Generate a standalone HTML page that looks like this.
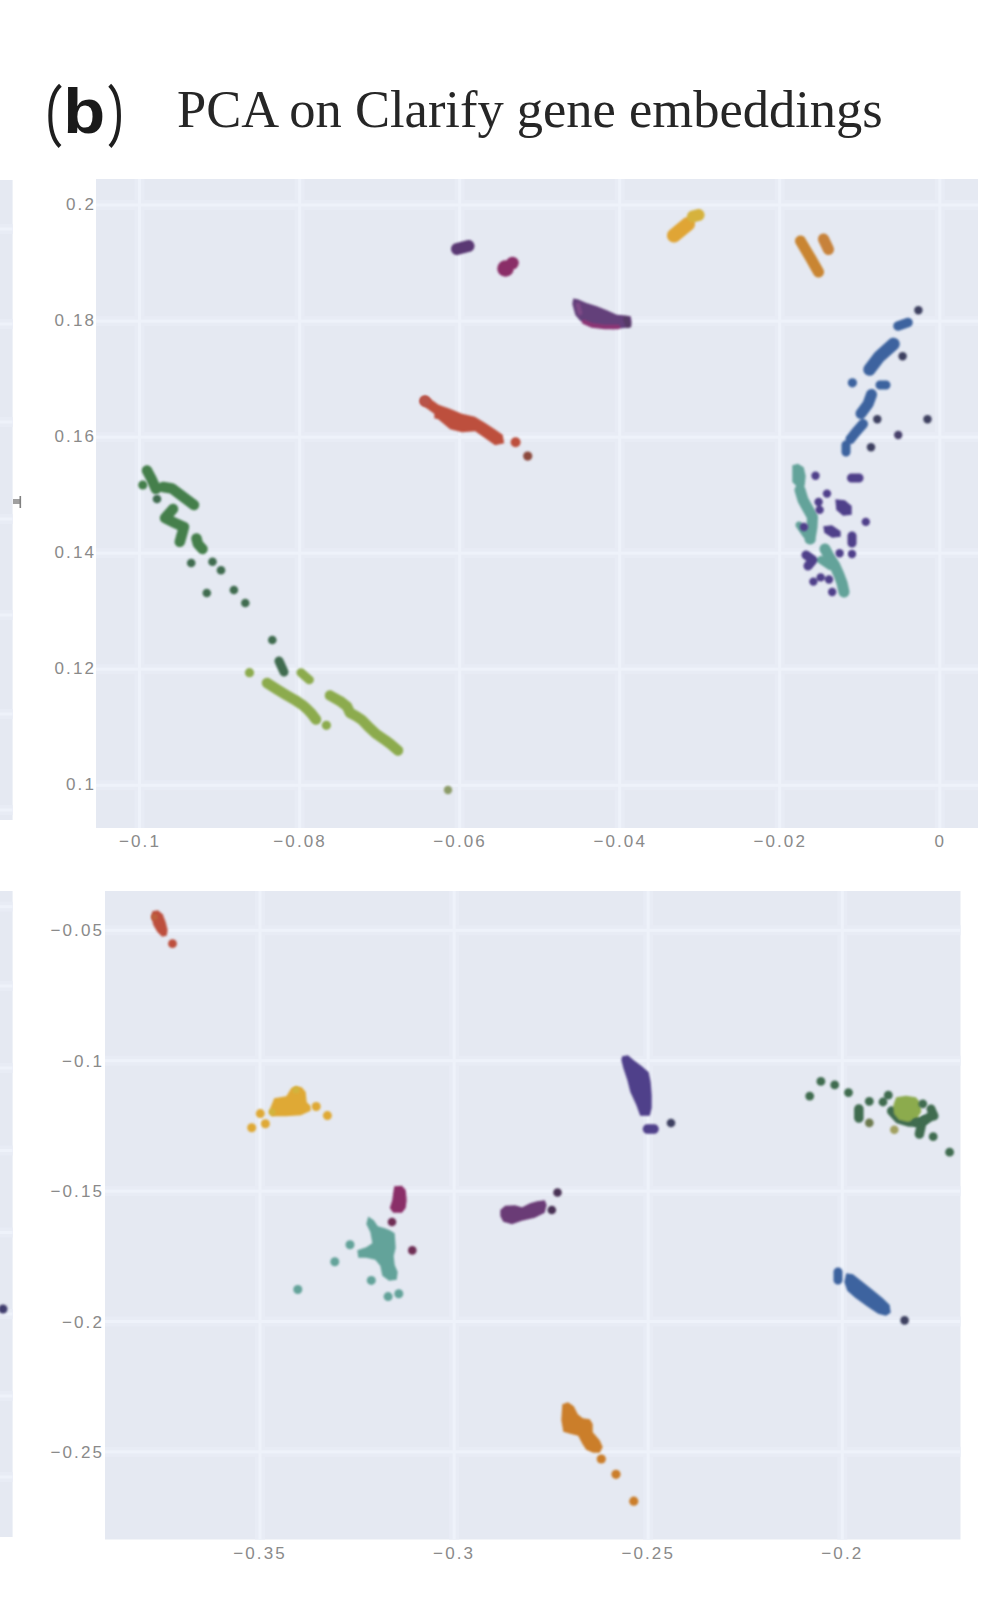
<!DOCTYPE html>
<html><head><meta charset="utf-8"><title>PCA on Clarify gene embeddings</title>
<style>
html,body{margin:0;padding:0;background:#fff;}
body{width:984px;height:1624px;overflow:hidden;}
svg{display:block;}
.t{font-family:"Liberation Sans",sans-serif;font-size:17px;letter-spacing:2.1px;fill:#8a8a8a;}
.pb{font-family:"Liberation Sans",sans-serif;font-size:63px;font-weight:bold;fill:#1a1a1a;}
.ti{font-family:"Liberation Serif",serif;font-size:52.5px;fill:#262626;}
</style></head>
<body>
<svg width="984" height="1624" viewBox="0 0 984 1624">
<defs><filter id="bl" x="-5%" y="-5%" width="110%" height="110%"><feGaussianBlur stdDeviation="0.8"/></filter><filter id="tb" x="-2%" y="-20%" width="104%" height="140%"><feGaussianBlur stdDeviation="0.45"/></filter><filter id="bl2" x="-5%" y="-5%" width="110%" height="110%"><feGaussianBlur stdDeviation="1.3"/></filter></defs>
<rect x="96" y="179" width="882" height="649" fill="#E5E9F2"/>
<g fill="#E8ECF5"><rect x="134.5" y="179" width="10" height="649"/><rect x="294.6" y="179" width="10" height="649"/><rect x="454.6" y="179" width="10" height="649"/><rect x="614.7" y="179" width="10" height="649"/><rect x="774.7" y="179" width="10" height="649"/><rect x="934.8" y="179" width="10" height="649"/><rect x="96" y="200.0" width="882" height="10"/><rect x="96" y="316.1" width="882" height="10"/><rect x="96" y="432.1" width="882" height="10"/><rect x="96" y="548.1" width="882" height="10"/><rect x="96" y="664.2" width="882" height="10"/><rect x="96" y="780.2" width="882" height="10"/></g>
<g fill="#EEF2FA"><rect x="138.0" y="179" width="3" height="649"/><rect x="298.1" y="179" width="3" height="649"/><rect x="458.1" y="179" width="3" height="649"/><rect x="618.2" y="179" width="3" height="649"/><rect x="778.2" y="179" width="3" height="649"/><rect x="938.3" y="179" width="3" height="649"/><rect x="96" y="203.5" width="882" height="3"/><rect x="96" y="319.6" width="882" height="3"/><rect x="96" y="435.6" width="882" height="3"/><rect x="96" y="551.6" width="882" height="3"/><rect x="96" y="667.7" width="882" height="3"/><rect x="96" y="783.8" width="882" height="3"/></g>
<rect x="105" y="891" width="855.5" height="648.5" fill="#E5E9F2"/>
<g fill="#E8ECF5"><rect x="255.0" y="891" width="10" height="648.5"/><rect x="449.1" y="891" width="10" height="648.5"/><rect x="643.2" y="891" width="10" height="648.5"/><rect x="837.3" y="891" width="10" height="648.5"/><rect x="105" y="925.3" width="855.5" height="10"/><rect x="105" y="1055.7" width="855.5" height="10"/><rect x="105" y="1186.1" width="855.5" height="10"/><rect x="105" y="1316.5" width="855.5" height="10"/><rect x="105" y="1446.9" width="855.5" height="10"/></g>
<g fill="#EEF2FA"><rect x="258.5" y="891" width="3" height="648.5"/><rect x="452.6" y="891" width="3" height="648.5"/><rect x="646.7" y="891" width="3" height="648.5"/><rect x="840.8" y="891" width="3" height="648.5"/><rect x="105" y="928.8" width="855.5" height="3"/><rect x="105" y="1059.2" width="855.5" height="3"/><rect x="105" y="1189.6" width="855.5" height="3"/><rect x="105" y="1320.0" width="855.5" height="3"/><rect x="105" y="1450.4" width="855.5" height="3"/></g>
<rect x="0" y="180" width="12.6" height="640" fill="#E5E9F2"/>
<g fill="#E8ECF5"><rect x="0" y="224.0" width="12.6" height="10"/><rect x="0" y="319.0" width="12.6" height="10"/><rect x="0" y="417.0" width="12.6" height="10"/><rect x="0" y="514.0" width="12.6" height="10"/><rect x="0" y="610.0" width="12.6" height="10"/><rect x="0" y="709.0" width="12.6" height="10"/><rect x="0" y="805.0" width="12.6" height="10"/></g>
<g fill="#EEF2FA"><rect x="0" y="227.5" width="12.6" height="3"/><rect x="0" y="322.5" width="12.6" height="3"/><rect x="0" y="420.5" width="12.6" height="3"/><rect x="0" y="517.5" width="12.6" height="3"/><rect x="0" y="613.5" width="12.6" height="3"/><rect x="0" y="712.5" width="12.6" height="3"/><rect x="0" y="808.5" width="12.6" height="3"/></g>
<rect x="0" y="891" width="12.6" height="646" fill="#E5E9F2"/>
<g fill="#E8ECF5"><rect x="0" y="901.6" width="12.6" height="10"/><rect x="0" y="981.0" width="12.6" height="10"/><rect x="0" y="1063.0" width="12.6" height="10"/><rect x="0" y="1145.5" width="12.6" height="10"/><rect x="0" y="1227.5" width="12.6" height="10"/><rect x="0" y="1309.0" width="12.6" height="10"/><rect x="0" y="1391.0" width="12.6" height="10"/><rect x="0" y="1472.0" width="12.6" height="10"/></g>
<g fill="#EEF2FA"><rect x="0" y="905.1" width="12.6" height="3"/><rect x="0" y="984.5" width="12.6" height="3"/><rect x="0" y="1066.5" width="12.6" height="3"/><rect x="0" y="1149.0" width="12.6" height="3"/><rect x="0" y="1231.0" width="12.6" height="3"/><rect x="0" y="1312.5" width="12.6" height="3"/><rect x="0" y="1394.5" width="12.6" height="3"/><rect x="0" y="1475.5" width="12.6" height="3"/></g>
<text x="96" y="210.0" text-anchor="end" class="t">0.2</text>
<text x="96" y="326.1" text-anchor="end" class="t">0.18</text>
<text x="96" y="442.1" text-anchor="end" class="t">0.16</text>
<text x="96" y="558.1" text-anchor="end" class="t">0.14</text>
<text x="96" y="674.2" text-anchor="end" class="t">0.12</text>
<text x="96" y="790.2" text-anchor="end" class="t">0.1</text>
<text x="140.0" y="847.0" text-anchor="middle" class="t">−0.1</text>
<text x="300.1" y="847.0" text-anchor="middle" class="t">−0.08</text>
<text x="460.1" y="847.0" text-anchor="middle" class="t">−0.06</text>
<text x="620.2" y="847.0" text-anchor="middle" class="t">−0.04</text>
<text x="780.2" y="847.0" text-anchor="middle" class="t">−0.02</text>
<text x="940.3" y="847.0" text-anchor="middle" class="t">0</text>
<text x="104" y="936.3" text-anchor="end" class="t">−0.05</text>
<text x="104" y="1066.7" text-anchor="end" class="t">−0.1</text>
<text x="104" y="1197.1" text-anchor="end" class="t">−0.15</text>
<text x="104" y="1327.5" text-anchor="end" class="t">−0.2</text>
<text x="104" y="1457.9" text-anchor="end" class="t">−0.25</text>
<text x="260.0" y="1559.0" text-anchor="middle" class="t">−0.35</text>
<text x="454.1" y="1559.0" text-anchor="middle" class="t">−0.3</text>
<text x="648.2" y="1559.0" text-anchor="middle" class="t">−0.25</text>
<text x="842.3" y="1559.0" text-anchor="middle" class="t">−0.2</text>
<rect x="13" y="499" width="8" height="5" fill="#a0a0a0"/>
<rect x="19.5" y="496" width="1.6" height="12" fill="#808080"/>
<g filter="url(#bl2)"><path d="M669.6 230.1 L668.6 231.1 L667.8 232.2 L667.3 233.5 L667.0 234.8 L667.0 236.2 L667.3 237.5 L667.8 238.8 L668.6 239.9 L669.6 240.9 L670.7 241.7 L672.0 242.2 L673.3 242.5 L674.7 242.5 L676.0 242.2 L677.3 241.7 L678.4 240.9 L692.4 229.4 L693.4 228.4 L694.2 227.3 L694.7 226.0 L695.0 224.7 L695.0 223.3 L694.7 222.0 L694.2 220.7 L693.4 219.6 L692.4 218.6 L691.3 217.8 L690.0 217.3 L688.7 217.0 L687.3 217.0 L686.0 217.3 L684.7 217.8 L683.6 218.6 L669.6 230.1Z" fill="#E0A535"/><path d="M700.1 220.8 L701.2 220.4 L702.2 219.7 L703.0 218.9 L703.7 218.0 L704.2 216.9 L704.5 215.8 L704.5 214.6 L704.3 213.4 L703.9 212.3 L703.2 211.3 L702.4 210.5 L701.5 209.8 L700.4 209.3 L699.3 209.0 L698.1 209.0 L696.9 209.2 L691.4 210.7 L690.3 211.1 L689.3 211.8 L688.5 212.6 L687.8 213.5 L687.3 214.6 L687.0 215.7 L687.0 216.9 L687.2 218.1 L687.6 219.2 L688.3 220.2 L689.1 221.0 L690.0 221.7 L691.1 222.2 L692.2 222.5 L693.4 222.5 L694.6 222.3 L700.1 220.8Z" fill="#D6B23C"/><path d="M805.2 259.8 L813.7 274.7 L814.3 275.6 L815.1 276.3 L816.0 276.9 L817.0 277.3 L818.1 277.5 L819.2 277.5 L820.2 277.2 L821.2 276.8 L822.1 276.2 L822.8 275.4 L823.4 274.5 L823.8 273.5 L824.0 272.4 L824.0 271.3 L823.7 270.3 L823.3 269.3 L814.8 254.3 L814.7 254.2 L805.2 238.2 L804.6 237.3 L803.8 236.6 L802.9 236.0 L801.9 235.7 L800.8 235.5 L799.7 235.6 L798.7 235.8 L797.7 236.3 L796.8 236.9 L796.1 237.7 L795.5 238.6 L795.2 239.6 L795.0 240.7 L795.1 241.8 L795.3 242.8 L795.8 243.8 L805.2 259.8Z" fill="#C98530"/><path d="M823.5 251.9 L824.1 252.8 L824.8 253.6 L825.7 254.2 L826.7 254.7 L827.7 254.9 L828.8 255.0 L829.9 254.8 L830.9 254.5 L831.8 253.9 L832.6 253.2 L833.2 252.3 L833.7 251.3 L833.9 250.3 L834.0 249.2 L833.8 248.1 L833.5 247.1 L828.5 236.6 L827.9 235.7 L827.2 234.9 L826.3 234.3 L825.3 233.8 L824.3 233.6 L823.2 233.5 L822.1 233.7 L821.1 234.0 L820.2 234.6 L819.4 235.3 L818.8 236.2 L818.3 237.2 L818.1 238.2 L818.0 239.3 L818.2 240.4 L818.5 241.4 L823.5 251.9Z" fill="#C7823A"/><path d="M470.0 251.8 L471.1 251.4 L472.1 250.8 L473.0 250.0 L473.7 249.0 L474.2 248.0 L474.4 246.8 L474.5 245.6 L474.3 244.5 L473.9 243.4 L473.3 242.4 L472.5 241.5 L471.5 240.8 L470.5 240.3 L469.3 240.1 L468.1 240.0 L467.0 240.2 L455.5 243.2 L454.4 243.6 L453.4 244.2 L452.5 245.0 L451.8 246.0 L451.3 247.0 L451.1 248.2 L451.0 249.4 L451.2 250.5 L451.6 251.6 L452.2 252.6 L453.0 253.5 L454.0 254.2 L455.0 254.7 L456.2 254.9 L457.4 255.0 L458.5 254.8 L470.0 251.8Z" fill="#5A3873"/><path d="M573.2 298.4 L572.3 304.0 L575.3 314.9 L580.2 320.8 L589.1 325.2 L600.1 327.7 L613.0 329.2 L631.2 327.2 L631.7 322.0 L630.7 316.3 L624.0 315.3 L617.0 314.8 L617.0 314.8 L616.9 314.8 L616.9 314.8 L616.9 314.8 L606.9 310.3 L596.9 306.3 L585.9 302.8 L585.9 302.8 L577.9 299.3 L573.2 298.4Z" fill="#64407A"/><path d="M591.1 327.6 L591.4 327.7 L591.7 327.7 L604.7 329.2 L605.0 329.2 L618.0 329.2 L618.4 329.2 L618.9 329.1 L619.3 328.9 L619.6 328.6 L619.9 328.3 L620.1 327.9 L620.2 327.4 L620.2 327.0 L620.2 326.6 L620.1 326.1 L619.9 325.7 L619.6 325.4 L619.3 325.1 L618.9 324.9 L618.4 324.8 L618.0 324.8 L605.1 324.8 L592.6 323.3 L584.9 319.9 L584.5 319.8 L584.0 319.8 L583.6 319.8 L583.2 319.9 L582.8 320.1 L582.4 320.4 L582.2 320.7 L581.9 321.1 L581.8 321.5 L581.8 322.0 L581.8 322.4 L581.9 322.8 L582.1 323.2 L582.4 323.6 L582.7 323.8 L583.1 324.1 L591.1 327.6Z" fill="#8B3574"/><path d="M577.8 313.5 L578.0 314.0 L578.2 314.3 L578.5 314.7 L578.8 314.9 L579.2 315.1 L579.7 315.2 L580.1 315.2 L580.5 315.2 L581.0 315.0 L581.3 314.8 L581.7 314.5 L581.9 314.2 L582.1 313.8 L582.2 313.3 L582.2 312.9 L582.2 312.5 L580.2 304.5 L580.0 304.0 L579.8 303.7 L579.5 303.3 L579.2 303.1 L578.8 302.9 L578.3 302.8 L577.9 302.8 L577.5 302.8 L577.0 303.0 L576.7 303.2 L576.3 303.5 L576.1 303.8 L575.9 304.2 L575.8 304.7 L575.8 305.1 L575.8 305.5 L577.8 313.5Z" fill="#7D4A86"/><path d="M625.2 325.9 L625.4 326.5 L625.7 327.0 L626.2 327.4 L626.7 327.7 L627.2 327.9 L627.8 328.0 L628.4 328.0 L628.9 327.8 L629.5 327.6 L630.0 327.3 L630.4 326.8 L630.7 326.3 L630.9 325.8 L631.0 325.2 L631.0 324.6 L630.8 324.1 L628.8 318.1 L628.6 317.5 L628.3 317.0 L627.8 316.6 L627.3 316.3 L626.8 316.1 L626.2 316.0 L625.6 316.0 L625.1 316.2 L624.5 316.4 L624.0 316.7 L623.6 317.2 L623.3 317.7 L623.1 318.2 L623.0 318.8 L623.0 319.4 L623.2 319.9 L625.2 325.9Z" fill="#563A66"/><path d="M434.3 404.8 L434.3 418.3 L438.1 419.2 L438.1 419.2 L438.1 419.2 L438.1 419.2 L438.2 419.3 L438.2 419.3 L450.1 429.2 L462.0 432.2 L475.0 431.2 L475.0 431.2 L475.0 431.2 L475.1 431.2 L475.1 431.2 L475.1 431.2 L475.1 431.2 L475.2 431.3 L495.1 445.2 L504.2 443.3 L502.7 434.7 L494.8 429.2 L484.8 422.8 L474.9 416.8 L461.9 413.8 L461.9 413.8 L461.9 413.8 L449.9 408.8 L439.9 405.3 L434.3 404.8Z" fill="#BD4F3D"/><path d="M433.1 413.0 L433.9 413.5 L434.8 413.9 L435.8 414.0 L436.8 413.9 L437.7 413.7 L438.6 413.3 L439.4 412.7 L440.0 411.9 L440.5 411.1 L440.9 410.2 L441.0 409.2 L440.9 408.2 L440.7 407.3 L440.3 406.4 L439.7 405.6 L438.9 405.0 L427.9 397.0 L427.1 396.5 L426.2 396.1 L425.2 396.0 L424.2 396.1 L423.3 396.3 L422.4 396.7 L421.6 397.3 L421.0 398.1 L420.5 398.9 L420.1 399.8 L420.0 400.8 L420.1 401.8 L420.3 402.7 L420.7 403.6 L421.3 404.4 L422.1 405.0 L433.1 413.0Z" fill="#BD4F3D"/><path d="M909.6 327.0 L910.4 326.6 L911.2 326.0 L911.8 325.4 L912.3 324.6 L912.6 323.7 L912.7 322.8 L912.7 321.8 L912.5 320.9 L912.1 320.1 L911.5 319.3 L910.9 318.7 L910.1 318.2 L909.2 317.9 L908.3 317.8 L907.3 317.8 L906.4 318.0 L896.4 321.5 L895.6 321.9 L894.8 322.5 L894.2 323.1 L893.7 323.9 L893.4 324.8 L893.3 325.7 L893.3 326.7 L893.5 327.6 L893.9 328.4 L894.5 329.2 L895.1 329.8 L895.9 330.3 L896.8 330.6 L897.7 330.7 L898.7 330.7 L899.6 330.5 L909.6 327.0Z" fill="#3D639F"/><path d="M883.6 361.3 L897.7 348.7 L898.5 347.8 L899.1 346.7 L899.6 345.6 L899.7 344.3 L899.7 343.1 L899.4 341.9 L898.9 340.8 L898.2 339.8 L897.3 339.0 L896.2 338.4 L895.1 337.9 L893.8 337.8 L892.6 337.8 L891.4 338.1 L890.3 338.6 L889.3 339.3 L874.8 352.3 L874.0 353.2 L864.5 365.7 L863.9 366.8 L863.5 367.9 L863.3 369.1 L863.3 370.3 L863.6 371.5 L864.1 372.7 L864.8 373.6 L865.7 374.5 L866.8 375.1 L867.9 375.5 L869.1 375.7 L870.3 375.7 L871.5 375.4 L872.7 374.9 L873.6 374.2 L874.5 373.3 L883.6 361.3Z" fill="#3D639F"/><path d="M886.0 389.5 L886.9 389.4 L887.7 389.2 L888.5 388.7 L889.2 388.2 L889.7 387.5 L890.2 386.7 L890.4 385.9 L890.5 385.0 L890.4 384.1 L890.2 383.3 L889.7 382.5 L889.2 381.8 L888.5 381.3 L887.7 380.8 L886.9 380.6 L886.0 380.5 L880.0 380.5 L879.1 380.6 L878.3 380.8 L877.5 381.3 L876.8 381.8 L876.3 382.5 L875.8 383.3 L875.6 384.1 L875.5 385.0 L875.6 385.9 L875.8 386.7 L876.3 387.5 L876.8 388.2 L877.5 388.7 L878.3 389.2 L879.1 389.4 L880.0 389.5 L886.0 389.5Z" fill="#3D639F"/><path d="M863.1 401.4 L856.6 410.2 L856.0 411.2 L855.7 412.2 L855.5 413.2 L855.6 414.3 L855.8 415.4 L856.3 416.3 L856.9 417.2 L857.7 417.9 L858.7 418.5 L859.7 418.8 L860.7 419.0 L861.8 418.9 L862.9 418.7 L863.8 418.2 L864.7 417.6 L865.4 416.8 L872.4 407.3 L873.2 405.9 L876.7 396.4 L876.9 395.4 L877.0 394.3 L876.8 393.2 L876.5 392.2 L875.9 391.3 L875.2 390.5 L874.4 389.8 L873.4 389.3 L872.4 389.1 L871.3 389.0 L870.2 389.2 L869.2 389.5 L868.3 390.1 L867.5 390.8 L866.8 391.6 L866.3 392.6 L863.1 401.4Z" fill="#3D639F"/><path d="M852.2 428.7 L852.1 428.9 L846.6 435.9 L846.0 436.7 L845.7 437.7 L845.5 438.6 L845.5 439.6 L845.7 440.6 L846.1 441.5 L846.7 442.3 L847.4 442.9 L848.2 443.5 L849.2 443.8 L850.1 444.0 L851.1 444.0 L852.1 443.8 L853.0 443.4 L853.8 442.8 L854.4 442.1 L859.8 435.2 L866.8 427.3 L867.3 426.5 L867.7 425.6 L868.0 424.6 L868.0 423.7 L867.8 422.7 L867.5 421.8 L867.0 421.0 L866.3 420.2 L865.5 419.7 L864.6 419.3 L863.6 419.0 L862.7 419.0 L861.7 419.2 L860.8 419.5 L860.0 420.0 L859.2 420.7 L852.2 428.7Z" fill="#3D639F"/><path d="M841.5 452.0 L841.6 452.9 L841.8 453.7 L842.3 454.5 L842.8 455.2 L843.5 455.7 L844.3 456.2 L845.1 456.4 L846.0 456.5 L846.9 456.4 L847.7 456.2 L848.5 455.7 L849.2 455.2 L849.7 454.5 L850.2 453.7 L850.4 452.9 L850.5 452.0 L850.5 445.0 L850.4 444.1 L850.2 443.3 L849.7 442.5 L849.2 441.8 L848.5 441.3 L847.7 440.8 L846.9 440.6 L846.0 440.5 L845.1 440.6 L844.3 440.8 L843.5 441.3 L842.8 441.8 L842.3 442.5 L841.8 443.3 L841.6 444.1 L841.5 445.0 L841.5 452.0Z" fill="#3D639F"/><path d="M792.3 465.2 L792.3 481.9 L798.1 487.7 L804.7 485.8 L805.7 476.0 L803.7 467.2 L798.0 463.8 L792.3 465.2Z" fill="#63A39A"/><path d="M797.7 501.6 L798.2 502.7 L803.2 511.7 L803.2 511.7 L806.9 518.3 L806.5 526.4 L804.6 538.1 L804.5 539.2 L804.6 540.2 L805.0 541.3 L805.5 542.2 L806.2 543.0 L807.1 543.7 L808.1 544.1 L809.1 544.4 L810.2 544.5 L811.2 544.4 L812.3 544.0 L813.2 543.5 L814.0 542.8 L814.7 541.9 L815.1 540.9 L815.4 539.9 L817.4 527.9 L817.5 527.3 L818.0 517.3 L817.9 516.2 L817.7 515.2 L817.3 514.3 L812.8 506.3 L808.1 497.8 L805.3 488.4 L804.9 487.4 L804.3 486.5 L803.5 485.8 L802.6 485.2 L801.6 484.7 L800.6 484.5 L799.5 484.5 L798.4 484.7 L797.4 485.1 L796.5 485.7 L795.8 486.5 L795.2 487.4 L794.7 488.4 L794.5 489.4 L794.5 490.5 L794.7 491.6 L797.7 501.6Z" fill="#63A39A"/><path d="M803.1 537.0 L803.8 537.7 L809.8 542.7 L810.3 543.1 L811.0 543.3 L811.6 543.5 L812.3 543.5 L813.0 543.4 L813.6 543.1 L814.2 542.7 L814.7 542.2 L815.1 541.7 L815.3 541.0 L815.5 540.4 L815.5 539.7 L815.4 539.0 L815.1 538.4 L814.7 537.8 L814.2 537.3 L808.6 532.6 L801.9 523.0 L801.4 522.5 L800.9 522.0 L800.3 521.7 L799.6 521.6 L798.9 521.5 L798.2 521.6 L797.6 521.8 L797.0 522.1 L796.5 522.6 L796.0 523.1 L795.7 523.7 L795.6 524.4 L795.5 525.1 L795.6 525.8 L795.8 526.4 L796.1 527.0 L803.1 537.0Z" fill="#63A39A"/><path d="M825.2 560.7 L825.3 560.9 L830.1 568.6 L833.9 577.1 L836.7 584.6 L838.6 593.2 L839.0 594.2 L839.5 595.2 L840.2 596.0 L841.0 596.6 L842.0 597.1 L843.0 597.4 L844.1 597.5 L845.2 597.4 L846.2 597.0 L847.2 596.5 L848.0 595.8 L848.6 595.0 L849.1 594.0 L849.4 593.0 L849.5 591.9 L849.4 590.8 L847.4 581.8 L847.1 581.1 L844.1 573.1 L844.0 572.8 L840.0 563.8 L839.7 563.1 L834.7 555.2 L829.8 546.3 L829.2 545.4 L828.4 544.7 L827.5 544.1 L826.5 543.7 L825.5 543.5 L824.4 543.5 L823.3 543.8 L822.3 544.2 L821.4 544.8 L820.7 545.6 L820.1 546.5 L819.7 547.5 L819.5 548.5 L819.5 549.6 L819.8 550.7 L820.2 551.7 L825.2 560.7Z" fill="#63A39A"/><path d="M827.8 569.3 L828.5 569.7 L829.2 569.9 L830.0 570.0 L830.8 569.9 L831.5 569.7 L832.2 569.3 L832.8 568.8 L833.3 568.2 L833.7 567.5 L833.9 566.8 L834.0 566.0 L833.9 565.2 L833.7 564.5 L833.3 563.8 L832.8 563.2 L832.2 562.7 L823.2 556.7 L822.5 556.3 L821.8 556.1 L821.0 556.0 L820.2 556.1 L819.5 556.3 L818.8 556.7 L818.2 557.2 L817.7 557.8 L817.3 558.5 L817.1 559.2 L817.0 560.0 L817.1 560.8 L817.3 561.5 L817.7 562.2 L818.2 562.8 L818.8 563.3 L827.8 569.3Z" fill="#63A39A"/><path d="M859.0 482.5 L859.9 482.4 L860.7 482.2 L861.5 481.7 L862.2 481.2 L862.7 480.5 L863.2 479.7 L863.4 478.9 L863.5 478.0 L863.4 477.1 L863.2 476.3 L862.7 475.5 L862.2 474.8 L861.5 474.3 L860.7 473.8 L859.9 473.6 L859.0 473.5 L851.5 473.5 L850.6 473.6 L849.8 473.8 L849.0 474.3 L848.3 474.8 L847.8 475.5 L847.3 476.3 L847.1 477.1 L847.0 478.0 L847.1 478.9 L847.3 479.7 L847.8 480.5 L848.3 481.2 L849.0 481.7 L849.8 482.2 L850.6 482.4 L851.5 482.5 L859.0 482.5Z" fill="#503F8A"/><path d="M835.3 499.3 L836.3 509.9 L843.1 515.7 L851.7 514.7 L851.7 506.1 L844.9 500.3 L835.3 499.3Z" fill="#503F8A"/><path d="M823.3 526.3 L824.3 532.8 L832.1 537.7 L840.7 536.7 L840.7 531.2 L831.9 525.3 L823.3 526.3Z" fill="#503F8A"/><path d="M847.5 543.0 L847.6 543.9 L847.8 544.7 L848.3 545.5 L848.8 546.2 L849.5 546.7 L850.3 547.2 L851.1 547.4 L852.0 547.5 L852.9 547.4 L853.7 547.2 L854.5 546.7 L855.2 546.2 L855.7 545.5 L856.2 544.7 L856.4 543.9 L856.5 543.0 L856.5 536.0 L856.4 535.1 L856.2 534.3 L855.7 533.5 L855.2 532.8 L854.5 532.3 L853.7 531.8 L852.9 531.6 L852.0 531.5 L851.1 531.6 L850.3 531.8 L849.5 532.3 L848.8 532.8 L848.3 533.5 L847.8 534.3 L847.6 535.1 L847.5 536.0 L847.5 543.0Z" fill="#503F8A"/><path d="M806.4 560.8 L804.5 563.1 L804.0 563.8 L803.7 564.7 L803.5 565.5 L803.5 566.4 L803.7 567.3 L804.0 568.1 L804.5 568.8 L805.1 569.5 L805.8 570.0 L806.7 570.3 L807.5 570.5 L808.4 570.5 L809.3 570.3 L810.1 570.0 L810.8 569.5 L811.5 568.9 L816.5 562.9 L817.0 562.1 L817.3 561.3 L817.5 560.3 L817.5 559.4 L817.3 558.5 L816.9 557.7 L816.3 556.9 L815.6 556.3 L808.6 551.3 L807.9 550.9 L807.0 550.6 L806.1 550.5 L805.3 550.6 L804.4 550.8 L803.6 551.2 L802.9 551.7 L802.3 552.4 L801.9 553.1 L801.6 554.0 L801.5 554.9 L801.6 555.7 L801.8 556.6 L802.2 557.4 L802.7 558.1 L803.4 558.7 L806.4 560.8Z" fill="#503F8A"/><path d="M146.3 480.3 L151.2 491.2 L151.7 492.1 L152.4 492.8 L153.2 493.5 L154.2 493.9 L155.2 494.2 L156.2 494.2 L157.2 494.1 L158.2 493.8 L159.1 493.3 L159.8 492.6 L160.5 491.8 L160.9 490.8 L161.2 489.8 L161.2 488.8 L161.1 487.8 L160.8 486.8 L155.8 475.8 L155.6 475.5 L151.6 468.0 L151.1 467.2 L150.3 466.4 L149.5 465.9 L148.5 465.5 L147.5 465.3 L146.5 465.3 L145.5 465.5 L144.5 465.9 L143.7 466.4 L142.9 467.2 L142.4 468.0 L142.0 469.0 L141.8 470.0 L141.8 471.0 L142.0 472.0 L142.4 473.0 L146.3 480.3Z" fill="#447F4B"/><path d="M169.9 493.5 L190.8 509.2 L191.7 509.7 L192.7 510.1 L193.7 510.2 L194.7 510.2 L195.7 510.0 L196.7 509.5 L197.5 508.9 L198.2 508.1 L198.7 507.3 L199.1 506.3 L199.2 505.3 L199.2 504.3 L199.0 503.3 L198.5 502.3 L197.9 501.5 L197.2 500.8 L175.2 484.3 L174.1 483.7 L172.9 483.3 L163.9 481.8 L162.8 481.8 L161.8 481.9 L160.8 482.2 L159.9 482.7 L159.2 483.4 L158.5 484.2 L158.1 485.1 L157.8 486.1 L157.8 487.2 L157.9 488.2 L158.2 489.2 L158.7 490.1 L159.4 490.8 L160.2 491.5 L161.1 491.9 L162.1 492.2 L169.9 493.5Z" fill="#447F4B"/><path d="M161.1 514.5 L160.5 515.4 L160.0 516.4 L159.8 517.4 L159.8 518.5 L160.0 519.5 L160.4 520.5 L161.0 521.4 L161.8 522.1 L162.7 522.7 L172.7 527.7 L172.9 527.8 L177.7 529.9 L177.0 532.6 L176.9 532.6 L174.7 540.4 L174.6 541.4 L174.6 542.4 L174.8 543.4 L175.2 544.4 L175.8 545.2 L176.5 545.9 L177.4 546.5 L178.4 546.9 L179.4 547.0 L180.4 547.0 L181.4 546.8 L182.4 546.4 L183.2 545.8 L183.9 545.1 L184.5 544.2 L184.9 543.2 L187.1 535.4 L189.0 528.4 L189.2 527.4 L189.2 526.3 L189.0 525.3 L188.5 524.3 L187.9 523.4 L187.1 522.7 L186.1 522.2 L177.2 518.3 L173.5 516.4 L176.9 512.5 L177.5 511.7 L178.0 510.7 L178.2 509.7 L178.2 508.7 L178.1 507.7 L177.7 506.7 L177.2 505.8 L176.5 505.1 L175.7 504.5 L174.7 504.0 L173.7 503.8 L172.7 503.8 L171.7 503.9 L170.7 504.3 L169.8 504.8 L169.1 505.5 L161.1 514.5Z" fill="#447F4B"/><path d="M192.9 545.4 L193.4 546.5 L194.1 547.5 L198.6 552.5 L199.4 553.2 L200.2 553.7 L201.2 554.1 L202.2 554.2 L203.3 554.2 L204.3 553.9 L205.2 553.5 L206.0 552.9 L206.7 552.1 L207.2 551.3 L207.6 550.3 L207.7 549.3 L207.7 548.2 L207.4 547.2 L207.0 546.3 L206.4 545.5 L202.7 541.4 L201.6 537.1 L201.2 536.2 L200.7 535.3 L199.9 534.5 L199.1 533.9 L198.2 533.5 L197.2 533.3 L196.1 533.3 L195.1 533.4 L194.2 533.8 L193.3 534.3 L192.5 535.1 L191.9 535.9 L191.5 536.8 L191.3 537.8 L191.3 538.9 L191.4 539.9 L192.9 545.4Z" fill="#447F4B"/><path d="M279.9 673.9 L280.3 674.6 L280.9 675.3 L281.6 675.8 L282.4 676.2 L283.3 676.4 L284.2 676.5 L285.0 676.4 L285.9 676.1 L286.6 675.7 L287.3 675.1 L287.8 674.4 L288.2 673.6 L288.4 672.7 L288.5 671.8 L288.4 671.0 L288.1 670.1 L283.1 659.1 L282.7 658.4 L282.1 657.7 L281.4 657.2 L280.6 656.8 L279.7 656.6 L278.8 656.5 L278.0 656.6 L277.1 656.9 L276.4 657.3 L275.7 657.9 L275.2 658.6 L274.8 659.4 L274.6 660.3 L274.5 661.2 L274.6 662.0 L274.9 662.9 L279.9 673.9Z" fill="#3F6C50"/><path d="M306.4 683.2 L307.1 683.7 L307.9 684.1 L308.8 684.3 L309.6 684.3 L310.5 684.1 L311.3 683.8 L312.1 683.3 L312.7 682.7 L313.2 682.0 L313.6 681.2 L313.8 680.3 L313.8 679.5 L313.6 678.6 L313.3 677.8 L312.8 677.0 L312.2 676.4 L303.9 669.3 L303.2 668.8 L302.4 668.4 L301.5 668.2 L300.7 668.2 L299.8 668.4 L299.0 668.7 L298.2 669.2 L297.6 669.8 L297.1 670.5 L296.7 671.3 L296.5 672.2 L296.5 673.0 L296.7 673.9 L297.0 674.7 L297.5 675.5 L298.1 676.1 L306.4 683.2Z" fill="#8CAB4D"/><path d="M275.2 694.4 L275.3 694.5 L284.3 700.0 L284.4 700.1 L292.2 704.5 L299.8 709.5 L303.4 712.8 L307.0 716.5 L311.8 722.7 L312.5 723.5 L313.4 724.0 L314.3 724.5 L315.3 724.7 L316.3 724.7 L317.4 724.6 L318.3 724.2 L319.2 723.7 L320.0 723.0 L320.5 722.1 L321.0 721.2 L321.2 720.2 L321.2 719.2 L321.1 718.1 L320.7 717.2 L320.2 716.3 L315.2 709.8 L314.7 709.3 L310.7 705.3 L310.5 705.1 L306.5 701.5 L305.9 701.0 L297.9 695.6 L297.6 695.4 L289.7 691.0 L280.8 685.5 L269.8 678.6 L268.9 678.1 L267.9 677.8 L266.9 677.8 L265.9 677.9 L264.9 678.2 L264.0 678.7 L263.2 679.4 L262.6 680.2 L262.1 681.1 L261.8 682.1 L261.8 683.1 L261.9 684.1 L262.2 685.1 L262.7 686.0 L263.4 686.8 L264.2 687.4 L275.2 694.4Z" fill="#8CAB4D"/><path d="M337.1 705.4 L342.8 709.8 L345.2 715.0 L345.8 716.0 L346.6 716.8 L347.5 717.4 L353.3 720.5 L358.6 724.1 L365.2 731.0 L365.5 731.3 L372.8 737.9 L373.3 738.3 L382.3 744.5 L387.7 748.6 L394.6 754.5 L395.4 755.1 L396.4 755.5 L397.4 755.7 L398.4 755.7 L399.4 755.6 L400.4 755.2 L401.2 754.6 L402.0 753.9 L402.6 753.1 L403.0 752.1 L403.2 751.1 L403.2 750.1 L403.1 749.1 L402.7 748.1 L402.1 747.3 L401.4 746.5 L394.4 740.5 L394.2 740.3 L388.6 736.0 L388.4 735.9 L379.6 729.9 L372.7 723.6 L365.8 716.5 L365.0 715.8 L359.0 711.7 L358.5 711.4 L354.0 709.0 L351.8 704.2 L351.1 703.1 L350.2 702.2 L343.2 696.8 L342.5 696.4 L332.5 690.9 L331.6 690.5 L330.6 690.3 L329.5 690.3 L328.5 690.5 L327.6 690.8 L326.7 691.4 L326.0 692.1 L325.4 693.0 L325.0 693.9 L324.8 694.9 L324.8 696.0 L325.0 697.0 L325.3 697.9 L325.9 698.8 L326.6 699.5 L327.5 700.1 L337.1 705.4Z" fill="#8CAB4D"/><path d="M152.3 911.3 L151.3 917.0 L153.3 924.9 L157.2 931.8 L162.1 936.7 L166.7 935.7 L167.7 930.0 L165.7 922.1 L162.7 914.2 L157.9 910.3 L152.3 911.3Z" fill="#BD4F3D"/><path d="M270.3 1108.0 L271.3 1116.2 L286.0 1116.2 L300.9 1115.2 L310.7 1110.8 L310.7 1106.1 L306.8 1102.2 L306.8 1102.2 L306.8 1102.2 L306.7 1102.1 L306.7 1102.1 L306.7 1102.1 L306.7 1102.1 L306.7 1102.0 L305.7 1092.1 L301.8 1087.3 L296.0 1086.3 L291.2 1088.2 L286.3 1096.2 L286.2 1096.2 L286.2 1096.2 L286.2 1096.2 L286.2 1096.2 L286.2 1096.3 L286.1 1096.3 L286.1 1096.3 L286.1 1096.3 L286.0 1096.3 L274.2 1098.3 L270.3 1108.0Z" fill="#DFA934"/><path d="M622.2 1056.3 L621.3 1060.0 L623.3 1067.9 L627.3 1079.9 L627.3 1079.9 L630.3 1091.9 L636.3 1104.9 L636.3 1104.9 L640.2 1115.7 L649.8 1115.7 L651.7 1108.0 L651.7 1095.0 L650.7 1082.0 L648.7 1072.2 L641.8 1066.2 L633.8 1060.2 L633.8 1060.2 L627.9 1055.3 L622.2 1056.3Z" fill="#503F8A"/><path d="M654.0 1133.8 L654.9 1133.7 L655.8 1133.4 L656.6 1132.9 L657.4 1132.4 L657.9 1131.6 L658.4 1130.8 L658.7 1129.9 L658.8 1129.0 L658.7 1128.1 L658.4 1127.2 L657.9 1126.4 L657.4 1125.6 L656.6 1125.1 L655.8 1124.6 L654.9 1124.3 L654.0 1124.2 L647.5 1124.2 L646.6 1124.3 L645.7 1124.6 L644.9 1125.1 L644.1 1125.6 L643.6 1126.4 L643.1 1127.2 L642.8 1128.1 L642.8 1129.0 L642.8 1129.9 L643.1 1130.8 L643.6 1131.6 L644.1 1132.4 L644.9 1132.9 L645.7 1133.4 L646.6 1133.7 L647.5 1133.8 L654.0 1133.8Z" fill="#503F8A"/><path d="M854.1 1118.0 L854.2 1118.9 L854.5 1119.8 L855.0 1120.6 L855.5 1121.4 L856.3 1121.9 L857.1 1122.4 L858.0 1122.7 L858.9 1122.8 L859.8 1122.7 L860.7 1122.4 L861.5 1121.9 L862.3 1121.4 L862.8 1120.6 L863.3 1119.8 L863.6 1118.9 L863.6 1118.0 L863.6 1109.0 L863.6 1108.1 L863.3 1107.2 L862.8 1106.4 L862.3 1105.6 L861.5 1105.1 L860.7 1104.6 L859.8 1104.3 L858.9 1104.2 L858.0 1104.3 L857.1 1104.6 L856.3 1105.1 L855.5 1105.6 L855.0 1106.4 L854.5 1107.2 L854.2 1108.1 L854.1 1109.0 L854.1 1118.0Z" fill="#3F6C50"/><path d="M895.5 1122.2 L896.1 1122.8 L896.8 1123.2 L897.6 1123.5 L907.6 1126.5 L909.0 1126.8 L922.0 1126.8 L922.9 1126.7 L923.8 1126.4 L924.6 1126.0 L935.6 1119.0 L936.3 1118.4 L936.9 1117.7 L937.3 1116.9 L937.6 1116.0 L937.7 1115.1 L937.7 1114.2 L937.4 1113.3 L937.0 1112.4 L936.4 1111.7 L935.7 1111.1 L934.9 1110.7 L934.0 1110.4 L933.1 1110.3 L932.2 1110.3 L931.3 1110.6 L930.4 1111.0 L920.6 1117.2 L909.7 1117.2 L901.6 1114.8 L895.2 1107.8 L894.5 1107.2 L893.7 1106.7 L892.8 1106.4 L891.9 1106.3 L891.0 1106.3 L890.1 1106.5 L889.2 1106.9 L888.5 1107.5 L887.9 1108.2 L887.4 1109.0 L887.1 1109.9 L887.0 1110.8 L887.0 1111.7 L887.2 1112.6 L887.6 1113.5 L888.2 1114.2 L895.5 1122.2Z" fill="#3F6C50"/><path d="M914.8 1133.0 L914.7 1133.9 L914.7 1134.8 L915.0 1135.7 L915.4 1136.6 L916.0 1137.3 L916.7 1137.9 L917.5 1138.4 L918.4 1138.6 L919.3 1138.7 L920.2 1138.7 L921.1 1138.4 L922.0 1138.0 L922.7 1137.4 L923.3 1136.7 L923.8 1135.9 L924.0 1135.0 L926.6 1123.0 L926.7 1122.1 L926.7 1121.2 L926.4 1120.3 L926.0 1119.4 L925.4 1118.7 L924.7 1118.1 L923.9 1117.6 L923.0 1117.4 L922.1 1117.3 L921.2 1117.3 L920.3 1117.6 L919.4 1118.0 L918.7 1118.6 L918.1 1119.3 L917.6 1120.1 L917.4 1121.0 L914.8 1133.0Z" fill="#3F6C50"/><path d="M929.9 1117.8 L930.3 1118.5 L930.9 1119.2 L931.5 1119.8 L932.3 1120.2 L933.2 1120.4 L934.1 1120.5 L934.9 1120.4 L935.8 1120.1 L936.5 1119.7 L937.2 1119.1 L937.8 1118.5 L938.2 1117.7 L938.4 1116.8 L938.5 1115.9 L938.4 1115.1 L938.1 1114.2 L935.1 1107.2 L934.7 1106.5 L934.1 1105.8 L933.5 1105.2 L932.7 1104.8 L931.8 1104.6 L930.9 1104.5 L930.1 1104.6 L929.2 1104.9 L928.5 1105.3 L927.8 1105.9 L927.2 1106.5 L926.8 1107.3 L926.6 1108.2 L926.5 1109.1 L926.6 1109.9 L926.9 1110.8 L929.9 1117.8Z" fill="#3F6C50"/><path d="M896.2 1097.3 L893.3 1105.0 L894.3 1113.9 L899.2 1119.7 L908.0 1121.7 L916.8 1118.7 L921.2 1111.9 L920.7 1103.1 L915.8 1097.3 L906.0 1095.8 L896.2 1097.3Z" fill="#8CAB4D"/><path d="M394.3 1186.3 L393.3 1192.0 L392.3 1200.0 L392.3 1200.1 L392.3 1200.1 L389.8 1207.9 L393.2 1212.7 L401.9 1212.7 L405.7 1207.9 L406.7 1200.0 L405.7 1190.1 L401.9 1185.8 L394.3 1186.3Z" fill="#8A2E68"/><path d="M368.2 1216.5 L366.3 1224.0 L370.3 1231.9 L370.3 1231.9 L370.3 1231.9 L370.3 1231.9 L372.3 1242.9 L372.3 1243.0 L372.3 1243.0 L372.3 1243.0 L372.3 1243.1 L372.3 1243.1 L372.3 1243.1 L372.3 1243.1 L372.2 1243.2 L372.2 1243.2 L372.2 1243.2 L372.2 1243.2 L372.2 1243.2 L366.2 1247.2 L366.1 1247.3 L366.1 1247.3 L366.1 1247.3 L357.3 1250.2 L358.3 1257.7 L366.0 1257.7 L366.0 1257.7 L366.1 1257.7 L375.1 1259.7 L375.1 1259.7 L375.1 1259.7 L375.1 1259.7 L375.2 1259.8 L375.2 1259.8 L375.2 1259.8 L375.2 1259.8 L380.2 1265.8 L380.2 1265.8 L380.3 1265.9 L380.3 1265.9 L380.3 1265.9 L380.3 1265.9 L382.3 1275.8 L389.1 1280.7 L396.7 1279.7 L397.7 1272.0 L394.7 1265.1 L394.7 1265.1 L394.7 1265.1 L394.7 1265.0 L393.7 1256.0 L393.7 1256.0 L393.7 1256.0 L393.7 1256.0 L393.7 1255.9 L395.7 1248.0 L394.7 1233.2 L389.9 1230.3 L384.9 1228.3 L377.9 1226.3 L377.9 1226.3 L377.9 1226.3 L377.8 1226.3 L377.8 1226.2 L377.8 1226.2 L377.8 1226.2 L377.8 1226.2 L373.8 1220.2 L368.2 1216.5Z" fill="#63A39A"/><path d="M500.3 1210.1 L500.3 1215.9 L503.2 1221.7 L512.0 1224.2 L521.9 1220.7 L521.9 1220.7 L534.9 1217.7 L544.7 1212.8 L546.7 1205.0 L544.8 1200.3 L537.1 1201.3 L530.1 1203.3 L522.1 1207.3 L522.1 1207.3 L522.1 1207.3 L522.1 1207.3 L522.0 1207.3 L522.0 1207.3 L522.0 1207.3 L521.9 1207.3 L521.9 1207.3 L515.0 1205.3 L505.1 1205.8 L500.3 1210.1Z" fill="#6A3B76"/><path d="M833.5 1280.0 L833.6 1280.9 L833.8 1281.7 L834.3 1282.5 L834.8 1283.2 L835.5 1283.7 L836.3 1284.2 L837.1 1284.4 L838.0 1284.5 L838.9 1284.4 L839.7 1284.2 L840.5 1283.7 L841.2 1283.2 L841.7 1282.5 L842.2 1281.7 L842.4 1280.9 L842.5 1280.0 L842.5 1272.0 L842.4 1271.1 L842.2 1270.3 L841.7 1269.5 L841.2 1268.8 L840.5 1268.3 L839.7 1267.8 L838.9 1267.6 L838.0 1267.5 L837.1 1267.6 L836.3 1267.8 L835.5 1268.3 L834.8 1268.8 L834.3 1269.5 L833.8 1270.3 L833.6 1271.1 L833.5 1272.0 L833.5 1280.0Z" fill="#3D639F"/><path d="M846.2 1273.3 L844.3 1282.0 L847.3 1290.8 L855.2 1297.8 L866.2 1305.8 L878.1 1313.7 L886.0 1315.7 L890.7 1312.8 L889.7 1305.1 L882.8 1298.2 L871.8 1289.2 L861.8 1281.2 L852.9 1274.3 L846.2 1273.3Z" fill="#3D639F"/><path d="M562.3 1404.2 L561.3 1420.0 L563.3 1431.8 L570.1 1433.7 L578.1 1435.7 L578.1 1435.7 L578.1 1435.7 L578.2 1435.7 L578.2 1435.8 L578.2 1435.8 L578.2 1435.8 L578.2 1435.8 L578.3 1435.8 L578.3 1435.9 L582.3 1443.8 L586.2 1449.8 L593.1 1452.7 L599.8 1452.7 L602.7 1447.0 L599.7 1440.2 L592.8 1432.2 L592.8 1432.2 L592.7 1432.1 L592.7 1432.1 L592.7 1432.1 L592.7 1432.1 L592.7 1432.0 L592.7 1432.0 L592.7 1424.1 L589.8 1419.3 L583.0 1418.3 L582.9 1418.3 L582.9 1418.3 L582.9 1418.3 L582.8 1418.3 L582.8 1418.2 L577.8 1414.2 L577.8 1414.2 L577.8 1414.2 L577.7 1414.2 L577.7 1414.1 L573.8 1406.2 L568.0 1402.3 L562.3 1404.2Z" fill="#CB7E2A"/></g>
<g filter="url(#bl)"><g fill="#8A2E68"><circle cx="505.5" cy="268.5" r="8.3"/></g><g fill="#8A2E68"><circle cx="512.5" cy="263.0" r="6.3"/></g><g fill="#B8524A"><circle cx="425.0" cy="401.0" r="5.6"/></g><g fill="#BD4F3D"><circle cx="515.6" cy="442.3" r="5"/></g><g fill="#8C4A3C"><circle cx="527.7" cy="456.1" r="4.6"/></g><g fill="#3D639F"><circle cx="852.4" cy="382.8" r="4.6"/></g><g fill="#3D4160"><circle cx="918.4" cy="310.2" r="4.2"/><circle cx="902.6" cy="356.2" r="4.2"/><circle cx="877.3" cy="419.3" r="4.2"/><circle cx="927.5" cy="419.3" r="4.2"/><circle cx="871.0" cy="447.3" r="4.2"/></g><g fill="#46406A"><circle cx="898.2" cy="435.0" r="4.2"/></g><g fill="#503F8A"><circle cx="815.5" cy="475.8" r="4.2"/><circle cx="827.0" cy="493.6" r="4.2"/><circle cx="818.6" cy="502.0" r="4.2"/><circle cx="819.6" cy="509.9" r="4.2"/><circle cx="865.8" cy="521.9" r="4.2"/><circle cx="804.0" cy="527.0" r="4.2"/><circle cx="852.0" cy="554.0" r="4.2"/><circle cx="839.6" cy="553.3" r="4.2"/><circle cx="820.7" cy="577.4" r="4.2"/><circle cx="813.4" cy="581.6" r="4.2"/><circle cx="829.0" cy="579.5" r="4.2"/><circle cx="832.2" cy="592.0" r="4.2"/></g><g fill="#447F4B"><circle cx="142.8" cy="485.0" r="4.6"/></g><g fill="#3F6C50"><circle cx="157.0" cy="499.0" r="4.3"/></g><g fill="#3F6C50"><circle cx="191.2" cy="563.0" r="4.3"/><circle cx="212.5" cy="561.7" r="4.3"/><circle cx="221.0" cy="570.3" r="4.3"/><circle cx="206.8" cy="593.0" r="4.3"/><circle cx="233.9" cy="590.0" r="4.3"/><circle cx="245.3" cy="603.0" r="4.3"/></g><g fill="#3F6C50"><circle cx="272.3" cy="640.0" r="4.3"/></g><g fill="#8CAB4D"><circle cx="249.5" cy="672.7" r="4.6"/></g><g fill="#8CAB4D"><circle cx="326.4" cy="725.3" r="4.6"/></g><g fill="#8C9B68"><circle cx="448.0" cy="790.0" r="4.2"/></g><g fill="#BC603C"><circle cx="154.5" cy="917.0" r="3.2"/></g><g fill="#BD4F3D"><circle cx="172.5" cy="943.7" r="4.4"/></g><g fill="#D2B43E"><circle cx="272.0" cy="1112.0" r="3.5"/><circle cx="296.0" cy="1090.0" r="3.5"/></g><g fill="#DFA934"><circle cx="260.3" cy="1113.6" r="4.5"/><circle cx="265.4" cy="1123.7" r="4.5"/><circle cx="251.7" cy="1127.8" r="4.5"/><circle cx="316.2" cy="1106.5" r="4.5"/><circle cx="327.4" cy="1115.6" r="4.5"/></g><g fill="#3D4160"><circle cx="671.0" cy="1123.0" r="4.3"/></g><g fill="#3F6C50"><circle cx="809.7" cy="1096.1" r="4.4"/><circle cx="820.9" cy="1081.4" r="4.4"/><circle cx="834.7" cy="1084.9" r="4.4"/><circle cx="848.5" cy="1092.6" r="4.4"/><circle cx="869.3" cy="1101.3" r="4.4"/><circle cx="883.0" cy="1102.0" r="4.4"/><circle cx="888.3" cy="1095.2" r="4.4"/><circle cx="922.8" cy="1103.9" r="4.4"/><circle cx="933.2" cy="1136.7" r="4.4"/><circle cx="949.6" cy="1152.2" r="4.4"/></g><g fill="#6D7A4F"><circle cx="869.3" cy="1122.9" r="4.3"/></g><g fill="#3F6C50"><circle cx="916.0" cy="1122.0" r="4.2"/><circle cx="924.0" cy="1120.0" r="4.2"/></g><g fill="#A1A060"><circle cx="894.3" cy="1129.8" r="4.3"/></g><g fill="#6E2E55"><circle cx="392.0" cy="1222.0" r="4.3"/><circle cx="412.3" cy="1250.4" r="4.3"/></g><g fill="#63A39A"><circle cx="350.0" cy="1244.8" r="4.5"/><circle cx="334.8" cy="1261.8" r="4.5"/><circle cx="371.3" cy="1280.4" r="4.5"/><circle cx="388.1" cy="1296.6" r="4.5"/><circle cx="398.8" cy="1293.8" r="4.5"/><circle cx="297.8" cy="1289.5" r="4.5"/></g><g fill="#4A3354"><circle cx="551.8" cy="1210.0" r="4.3"/><circle cx="557.5" cy="1192.5" r="4.3"/></g><g fill="#3D4160"><circle cx="904.6" cy="1320.4" r="4.3"/></g><g fill="#CB7E2A"><circle cx="601.3" cy="1459.0" r="4.6"/><circle cx="616.0" cy="1474.3" r="4.6"/><circle cx="633.8" cy="1501.2" r="4.6"/></g><g fill="#3F3D6E"><circle cx="3.0" cy="1309.0" r="4.5"/></g></g>
<path d="M60.4 85.3 C47 97.4 47 133.9 60 146.5" fill="none" stroke="#1e1e1e" stroke-width="4"/>
<path d="M109.7 85.3 C122 97.4 122 133.9 110 146.5" fill="none" stroke="#1e1e1e" stroke-width="4"/>
<text transform="translate(63.2,132.5) scale(1.09,1)" class="pb">b</text>
<text x="177" y="127" class="ti" filter="url(#tb)">PCA on Clarify gene embeddings</text>
</svg>
</body></html>
